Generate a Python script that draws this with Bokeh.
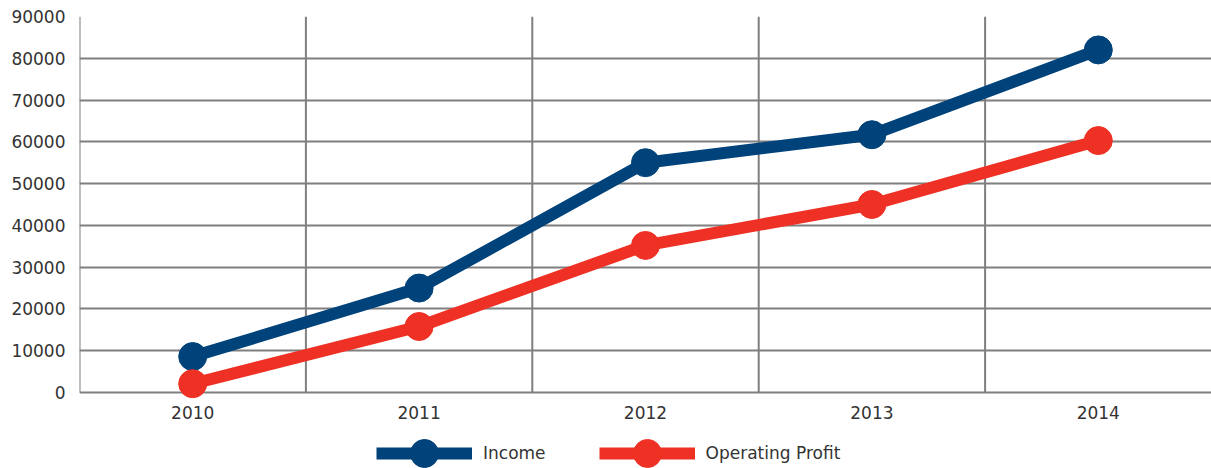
from bokeh.plotting import figure
from bokeh.models import FactorRange, Range1d, FixedTicker, Legend, LegendItem
from bokeh.embed import file_html
from bokeh.resources import INLINE

years = ["2010", "2011", "2012", "2013", "2014"]
income = [8600, 25000, 55000, 61700, 82000]
operating_profit = [2100, 15800, 35200, 45000, 60300]
y_ticks = [0, 10000, 20000, 30000, 40000, 50000, 60000, 70000, 80000, 90000]

NAVY = "#00427A"
RED = "#EE3124"
GRID = "#7F7F7F"
FONT = "DejaVu Sans"

W, H = 1211, 468
TOP, LEFT = 16, 79
PLOT_BOTTOM = 392          # pixel row of the value axis zero line
frame_h = H - TOP
plot_h = PLOT_BOTTOM - TOP
y_max = y_ticks[-1]
y_start = -y_max * (frame_h / plot_h - 1)   # room under the zero line for labels + legend

p = figure(width=W, height=H, x_range=FactorRange(factors=years, range_padding=0),
           y_range=Range1d(y_start, y_max), output_backend="svg", toolbar_location=None,
           min_border_left=LEFT, min_border_right=0, min_border_top=TOP, min_border_bottom=0)
p.outline_line_color = None
p.background_fill_color = "white"

# horizontal grid lines
p.xgrid.visible = False
p.ygrid.ticker = FixedTicker(ticks=y_ticks)
p.ygrid.grid_line_color = GRID
p.ygrid.grid_line_width = 2

# vertical separators between categories (left edge of each category)
sep = list(range(len(years)))
p.segment(x0=sep, y0=[y_ticks[0]] * len(sep), x1=sep, y1=[y_max] * len(sep),
          line_color=GRID, line_width=2, level="underlay")

# axes
p.yaxis.ticker = FixedTicker(ticks=y_ticks)
p.yaxis.formatter.use_scientific = False
p.yaxis.axis_line_color = None
p.xaxis.axis_line_color = None
p.xaxis.fixed_location = y_ticks[0]
for ax in (p.xaxis, p.yaxis):
    ax.major_tick_line_color = None
    ax.minor_tick_line_color = None
    ax.major_tick_in = 0
    ax.major_tick_out = 0
    ax.major_label_text_font = FONT
    ax.major_label_text_font_size = "17px"
    ax.major_label_text_color = "#333333"
p.yaxis.major_label_standoff = 14
p.xaxis.major_label_standoff = 13

r1 = p.line(years, income, line_color=NAVY, line_width=12)
s1 = p.scatter(years, income, size=28, fill_color=NAVY, line_color=NAVY)
r2 = p.line(years, operating_profit, line_color=RED, line_width=12)
s2 = p.scatter(years, operating_profit, size=28, fill_color=RED, line_color=RED)

legend = Legend(items=[LegendItem(label="Income", renderers=[r1, s1]),
                       LegendItem(label="Operating Profit", renderers=[r2, s2])],
                orientation="horizontal", location=(297, -20),
                glyph_width=96, glyph_height=70, label_standoff=11, spacing=53,
                padding=0, margin=0, border_line_color=None, background_fill_alpha=0,
                label_text_font=FONT, label_text_font_size="17px", label_text_color="#333333")
p.add_layout(legend, "center")

open("out.html", "w").write(file_html(p, INLINE))
